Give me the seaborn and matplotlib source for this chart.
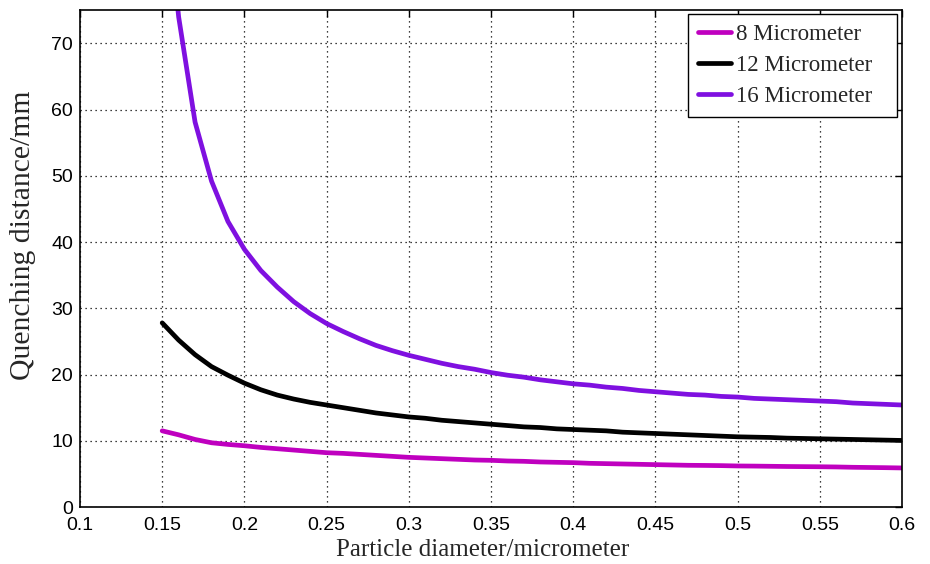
import numpy as np
import pandas as pd
import matplotlib
matplotlib.use("Agg")
import matplotlib.pyplot as plt
import seaborn as sns

# Particle diameter (micrometer)
diameter = [0.15, 0.16, 0.17, 0.18, 0.19, 0.20, 0.21, 0.22, 0.23, 0.24,
            0.25, 0.26, 0.27, 0.28, 0.29, 0.30, 0.31, 0.32, 0.33, 0.34,
            0.35, 0.36, 0.37, 0.38, 0.39, 0.40, 0.41, 0.42, 0.43, 0.44,
            0.45, 0.46, 0.47, 0.48, 0.49, 0.50, 0.51, 0.52, 0.53, 0.54,
            0.55, 0.56, 0.57, 0.58, 0.59, 0.60]

# Quenching distance (mm) for each case
q_8um = [11.5, 10.9, 10.2, 9.7, 9.45, 9.25, 9.0, 8.8, 8.6, 8.4,
         8.2, 8.1, 7.95, 7.8, 7.65, 7.5, 7.4, 7.3, 7.2, 7.1,
         7.05, 6.95, 6.9, 6.8, 6.75, 6.7, 6.6, 6.55, 6.5, 6.45,
         6.4, 6.35, 6.3, 6.28, 6.25, 6.2, 6.18, 6.15, 6.12, 6.1,
         6.08, 6.05, 6.0, 5.97, 5.94, 5.9]
q_12um = [27.8, 25.2, 23.0, 21.2, 19.9, 18.7, 17.7, 16.9, 16.3, 15.8,
          15.4, 15.0, 14.6, 14.2, 13.9, 13.6, 13.4, 13.1, 12.9, 12.7,
          12.5, 12.3, 12.1, 12.0, 11.8, 11.7, 11.6, 11.5, 11.3, 11.2,
          11.1, 11.0, 10.9, 10.8, 10.7, 10.6, 10.55, 10.5, 10.4, 10.35,
          10.3, 10.25, 10.2, 10.15, 10.1, 10.05]
q_16um = [99.0, 74.0, 58.1, 49.2, 43.1, 38.9, 35.7, 33.2, 31.0, 29.2,
          27.7, 26.5, 25.4, 24.4, 23.6, 22.9, 22.3, 21.7, 21.2, 20.8,
          20.3, 19.9, 19.6, 19.2, 18.9, 18.6, 18.4, 18.1, 17.9, 17.6,
          17.4, 17.2, 17.0, 16.9, 16.7, 16.6, 16.4, 16.3, 16.2, 16.1,
          16.0, 15.9, 15.7, 15.6, 15.5, 15.4]

series_names = ["8 Micrometer", "12 Micrometer", "16 Micrometer"]
series_colors = ["#BF00BF", "#000000", "#7F10E0"]

x_ticks = [0.1, 0.15, 0.2, 0.25, 0.3, 0.35, 0.4, 0.45, 0.5, 0.55, 0.6]
x_ticklabels = ["0.1", "0.15", "0.2", "0.25", "0.3", "0.35", "0.4",
                "0.45", "0.5", "0.55", "0.6"]
y_ticks = [0, 10, 20, 30, 40, 50, 60, 70]

df = pd.concat([
    pd.DataFrame({"d": diameter, "q": vals, "case": name})
    for name, vals in zip(series_names, [q_8um, q_12um, q_16um])
], ignore_index=True)

sns.set_style("white")
plt.rcParams["font.family"] = ["Liberation Sans", "DejaVu Sans"]

fig = plt.figure(figsize=(9.3, 5.64), dpi=100)
ax = fig.add_axes([0.086, 0.101, 0.884, 0.881])

sns.lineplot(data=df, x="d", y="q", hue="case", hue_order=series_names,
             palette=dict(zip(series_names, series_colors)),
             linewidth=3.4, ax=ax, legend=True)

ax.set_xlim(0.1, 0.6)
ax.set_ylim(0, 75)
ax.set_xticks(x_ticks)
ax.set_xticklabels(x_ticklabels)
ax.set_yticks(y_ticks)

ax.grid(True, color="black", linestyle=(0, (1, 3)), linewidth=0.9)
ax.set_axisbelow(True)

for s in ax.spines.values():
    s.set_visible(True)
    s.set_color("black")
    s.set_linewidth(1.2)

ax.tick_params(direction="in", length=5, width=1, top=True, right=True,
               labelsize=14, colors="black")
ax.tick_params(axis="x", pad=7)
ax.tick_params(axis="y", pad=5)

serif = ["Liberation Serif", "DejaVu Serif"]
ax.set_xlabel("Particle diameter/micrometer", fontsize=18, family=serif)
ax.set_ylabel("Quenching distance/mm", fontsize=21.3, family=serif)
ax.xaxis.set_label_coords(0.4897, -0.064)
ax.yaxis.set_label_coords(-0.054, 0.547)

# legend box spanning a fixed width in the upper right corner
leg = ax.legend(loc="upper left", bbox_to_anchor=(0.7397, 0.7847, 0.2543, 0.2073),
                mode="expand", frameon=True, fancybox=False, edgecolor="black",
                prop={"family": serif, "size": 16.5}, handlelength=1.44,
                handletextpad=0.2, borderaxespad=0.0, labelspacing=0.42,
                borderpad=0.45)
leg.get_frame().set_linewidth(1.0)
leg.get_frame().set_alpha(1.0)
for line in leg.get_lines():
    line.set_linewidth(3.4)

fig.savefig("out.png", dpi=100)
